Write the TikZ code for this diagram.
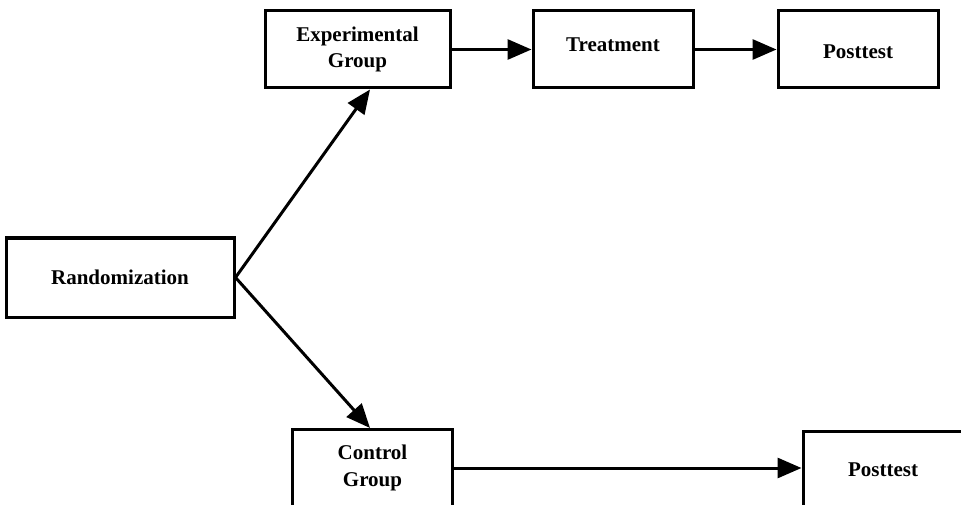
\documentclass[tikz,border=0pt]{standalone}
\usepackage{fontspec}
\setmainfont{Liberation Serif}
\usetikzlibrary{arrows.meta}
\begin{document}
\begin{tikzpicture}[x=1pt,y=-1pt,
  box/.style={draw, line width=3pt, inner sep=0pt, minimum width=#1,
    minimum height=77pt, align=center,
    font=\fontsize{21}{26.5}\selectfont\bfseries},
  box/.default=160pt,
  flow/.style={line width=3pt, -{Triangle[length=24pt,width=20pt]}}]
\useasboundingbox (0,0) rectangle (961,505);
\fill[white] (0,0) rectangle (961,505);
\clip (0,0) rectangle (961,505);

% stages
\node[box=228pt, minimum height=79pt] (rand) at (120,277.5) {Randomization};
\node[box=185pt] (exp) at (357.5,49.5) {Experimental\\Group};
\node[box, text depth=9pt] (treat) at (613,49.5) {Treatment};
\node[box, text height=19pt] (post) at (858,49.5) {Posttest};
\node[box] (ctrl) at (372.5,468) {Control\\Group};
\node[box] (post2) at (883,470) {Posttest};

% flow between stages
\draw[flow] (rand.east) -- ([xshift=12.5pt]exp.south);
\draw[flow] (rand.east) -- ([xshift=-2.5pt]ctrl.north);
\draw[flow] (exp) -- (treat);
\draw[flow] (treat) -- (post);
\draw[flow] (ctrl.east) -- (ctrl.east -| post2.west);
\end{tikzpicture}
\end{document}
